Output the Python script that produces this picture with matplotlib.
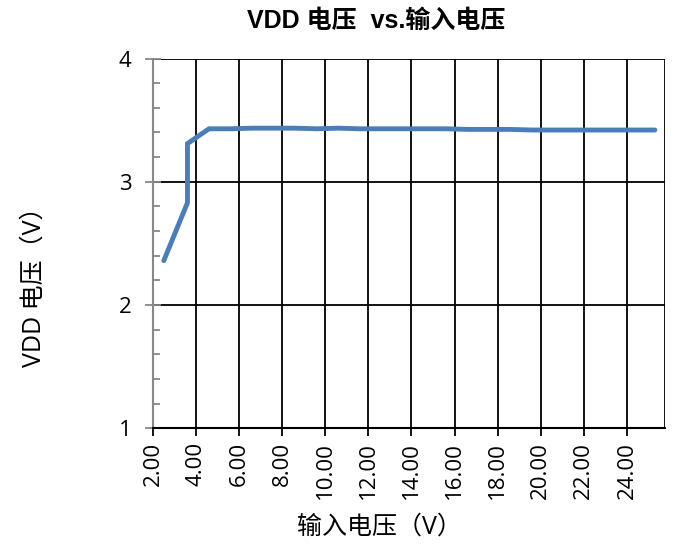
import matplotlib
matplotlib.use("Agg")
import matplotlib.pyplot as plt
from matplotlib.ticker import MultipleLocator, FormatStrFormatter

plt.rcParams['font.family'] = ['Open Sans', 'Noto Sans CJK SC', 'DejaVu Sans']

# data
vin = [2.5, 3.6, 3.6, 4.6, 5.6, 6.6, 7.6, 8.6, 9.6, 10.6, 11.6, 12.6, 13.6, 14.6,
       15.6, 16.6, 17.6, 18.6, 19.6, 20.6, 21.6, 22.6, 23.6, 24.6, 25.3]
vdd = [2.36, 2.83, 3.31, 3.43, 3.43, 3.435, 3.435, 3.435, 3.43, 3.435, 3.43, 3.43, 3.43, 3.43,
       3.43, 3.425, 3.425, 3.425, 3.42, 3.42, 3.42, 3.42, 3.42, 3.42, 3.42]
xticks = [2, 4, 6, 8, 10, 12, 14, 16, 18, 20, 22, 24]
yticks = [1, 2, 3, 4]

fig = plt.figure(figsize=(6.8, 5.47), dpi=100)
ax = fig.add_axes([0.225, 0.217, 0.753, 0.676])

ax.plot(vin, vdd, color='#4a7ebb', lw=3.5, solid_capstyle='round', solid_joinstyle='miter', zorder=3)

ax.set_xlim(2, 25.77)
ax.set_ylim(1, 4)
ax.set_xticks(xticks)
ax.xaxis.set_major_formatter(FormatStrFormatter('%.2f'))
ax.set_yticks(yticks)
ax.yaxis.set_minor_locator(MultipleLocator(0.2))

# grid
for x in xticks[1:] + [25.77]:
    ax.axvline(x, color='black', lw=1.3, zorder=1)
for y in yticks[1:]:
    ax.axhline(y, color='black', lw=1.3, zorder=1)

for s in ['top', 'right']:
    ax.spines[s].set_visible(False)
ax.spines['left'].set_color('#888888')
ax.spines['left'].set_linewidth(1.5)
ax.spines['bottom'].set_color('black')
ax.spines['bottom'].set_linewidth(1.5)

ax.tick_params(axis='y', which='major', direction='inout', length=11, width=1.3,
               color='#888888', labelsize=16, pad=10)
ax.tick_params(axis='y', which='minor', direction='in', length=5, width=1.3, color='#888888')
ax.tick_params(axis='x', which='major', direction='out', length=6, width=1.3,
               color='black', labelsize=16, labelrotation=90, pad=4)

ax.set_title('VDD 电压  vs.输入电压', fontsize=18, fontweight='bold',
             family=['Liberation Sans', 'Noto Sans CJK SC'], pad=22, x=0.436)
ax.set_xlabel('输入电压（V）', fontsize=18, labelpad=11, x=0.443)
ax.set_ylabel('VDD 电压（V）', fontsize=18, labelpad=52, y=0.4)

fig.savefig('out.png', dpi=100)
